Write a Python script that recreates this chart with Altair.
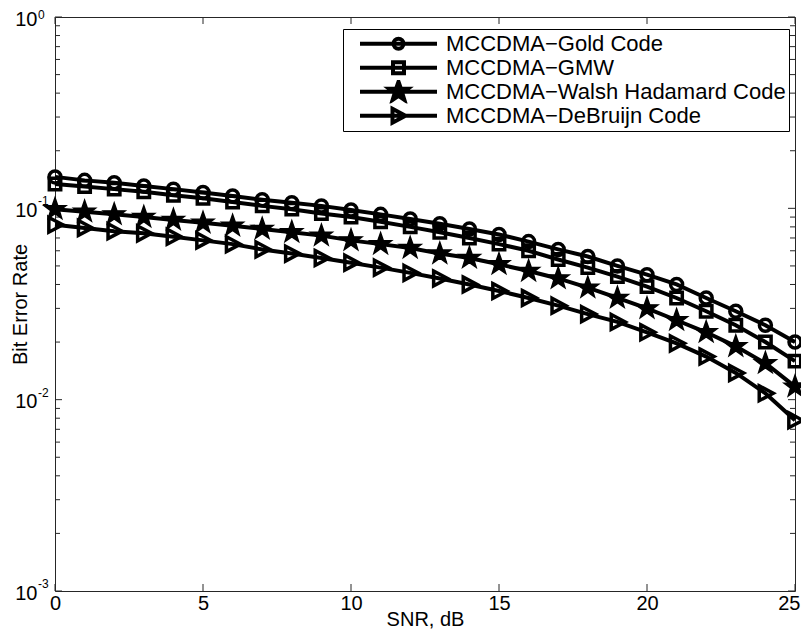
import altair as alt
import pandas as pd

# ---------------- data ----------------
snr = list(range(26))
series_names = [
    "MCCDMA\u2212Gold Code",
    "MCCDMA\u2212GMW",
    "MCCDMA\u2212Walsh Hadamard Code",
    "MCCDMA\u2212DeBruijn Code",
]
gold = [0.146, 0.140, 0.136, 0.131, 0.126, 0.121, 0.116, 0.111, 0.107, 0.103,
        0.098, 0.093, 0.088, 0.083, 0.078, 0.073, 0.067, 0.061, 0.056, 0.050,
        0.045, 0.040, 0.034, 0.029, 0.0245, 0.020]
gmw = [0.134, 0.130, 0.126, 0.122, 0.117, 0.113, 0.108, 0.103, 0.099, 0.094,
       0.090, 0.085, 0.080, 0.075, 0.070, 0.065, 0.060, 0.054, 0.049, 0.044,
       0.039, 0.034, 0.029, 0.0245, 0.020, 0.0159]
walsh = [0.099, 0.096, 0.093, 0.090, 0.087, 0.084, 0.081, 0.078, 0.075, 0.072,
         0.068, 0.065, 0.062, 0.058, 0.055, 0.051, 0.047, 0.043, 0.0385, 0.034,
         0.030, 0.026, 0.0225, 0.019, 0.0155, 0.0117]
debruijn = [0.082, 0.079, 0.076, 0.074, 0.071, 0.068, 0.065, 0.061, 0.058, 0.055,
            0.052, 0.049, 0.046, 0.043, 0.040, 0.037, 0.034, 0.031, 0.028, 0.0255,
            0.0225, 0.0197, 0.0168, 0.0138, 0.0108, 0.0078]
series_values = [gold, gmw, walsh, debruijn]

x_ticks = [0, 5, 10, 15, 20, 25]
y_major = [0.001, 0.01, 0.1, 1]
y_exponents = ["-3", "-2", "-1", "0"]
y_minor = [0.002, 0.003, 0.004, 0.005, 0.006, 0.007, 0.008, 0.009,
           0.02, 0.03, 0.04, 0.05, 0.06, 0.07, 0.08, 0.09,
           0.2, 0.3, 0.4, 0.5, 0.6, 0.7, 0.8, 0.9]

rows = []
for name, vals in zip(series_names, series_values):
    for s, v in zip(snr, vals):
        rows.append({"snr": s, "ber": v, "series": name})
df = pd.DataFrame(rows)

# ---------------- style ----------------
W, H = 740, 574
FONT = "Liberation Sans"
AX = "#262626"
FS = 20

xscale = alt.Scale(domain=[0, 25], nice=False, zero=False)
yscale = alt.Scale(type="log", domain=[0.001, 1], nice=False)
xaxis = alt.Axis(values=x_ticks, title="SNR, dB", grid=False, ticks=False, domain=False,
                 labelFont=FONT, labelFontSize=FS, labelColor="black", labelPadding=2,
                 labelOverlap=False, labelFlush=False,
                 labelAlign={"condition": {"test": "datum.value == 25", "value": "right"},
                             "value": "center"},
                 labelOffset={"condition": {"test": "datum.value == 25", "value": 5},
                              "value": 0},
                 titleFont=FONT, titleFontSize=FS, titleFontWeight="normal",
                 titleColor="black", titleY=34, titleBaseline="alphabetic")
yaxis = alt.Axis(values=y_major, labelExpr="'10'", title="Bit Error Rate", grid=False,
                 ticks=False, domain=False, labelFont=FONT, labelFontSize=FS,
                 labelColor="black", labelPadding=18, labelOffset=2, labelOverlap=False,
                 labelFlush=False, titleFont=FONT, titleFontSize=FS,
                 titleFontWeight="normal", titleColor="black", titleX=-35,
                 titleBaseline="middle")


def X(field):
    return alt.X(field, type="quantitative", scale=xscale, axis=xaxis)


def Y(field):
    return alt.Y(field, type="quantitative", scale=yscale, axis=yaxis)


layers = []

# inward tick marks on all four sides
ymaj_df = pd.DataFrame({"v": y_major})
ymin_df = pd.DataFrame({"v": y_minor})
xt_df = pd.DataFrame({"t": x_ticks})
for d, L in [(ymaj_df, 7), (ymin_df, 5)]:
    layers.append(alt.Chart(d).mark_rule(color=AX, strokeWidth=1).encode(
        y=Y("v"), x=alt.value(0), x2=alt.value(L)))
    layers.append(alt.Chart(d).mark_rule(color=AX, strokeWidth=1).encode(
        y=Y("v"), x=alt.value(W - L), x2=alt.value(W)))
layers.append(alt.Chart(xt_df).mark_rule(color=AX, strokeWidth=1).encode(
    x=X("t"), y=alt.value(H - 7), y2=alt.value(H)))
layers.append(alt.Chart(xt_df).mark_rule(color=AX, strokeWidth=1).encode(
    x=X("t"), y=alt.value(0), y2=alt.value(7)))

# exponents of the y tick labels (the top one kept inside the page)
exp_df = pd.DataFrame({"v": y_major, "e": y_exponents})
layers.append(alt.Chart(exp_df).transform_filter(alt.datum.v < 0.5).mark_text(
    align="left", baseline="middle", dy=-7, font=FONT, fontSize=12, color="black"
).encode(y=Y("v"), x=alt.value(-17), text="e:N"))
layers.append(alt.Chart(exp_df).transform_filter(alt.datum.v > 0.5).mark_text(
    align="left", baseline="middle", dy=-2, font=FONT, fontSize=12, color="black"
).encode(y=Y("v"), x=alt.value(-17), text="e:N"))

# lines
layers.append(alt.Chart(df).mark_line(color="black", strokeWidth=4).encode(
    x=X("snr"), y=Y("ber"), detail="series:N"))

# markers
STAR = ("M0,-1L0.235,-0.324L0.951,-0.309L0.38,0.124L0.588,0.809L0,0.4"
        "L-0.588,0.809L-0.38,0.124L-0.951,-0.309L-0.235,-0.324Z")
TRI = "M-0.75,-0.9L0.95,0L-0.75,0.9Z"
marker_specs = [("circle", 144, False), ("square", 130, False),
                (STAR, 520, True), (TRI, 270, False)]
for name, (shape, size, filled) in zip(series_names, marker_specs):
    if filled:
        mk = alt.Chart(df).transform_filter(alt.datum.series == name).mark_point(
            shape=shape, size=size, filled=True, fill="black", stroke="black",
            strokeWidth=1.5, opacity=1)
    else:
        mk = alt.Chart(df).transform_filter(alt.datum.series == name).mark_point(
            shape=shape, size=size, filled=False, stroke="black", strokeWidth=3.5,
            opacity=1)
    layers.append(mk.encode(x=X("snr"), y=Y("ber")))

# legend (line + marker symbols; the star is filled by inner strokes)
LEG_LINE = "M0.2,0L7.9,0"
leg_paths = [
    LEG_LINE + "M4.55,0A0.5,0.5 0 1,1 3.55,0A0.5,0.5 0 1,1 4.55,0Z",
    LEG_LINE + "M3.5,-0.55L4.6,-0.55L4.6,0.55L3.5,0.55Z",
    LEG_LINE + ("M4.05,-1L4.285,-0.324L5.001,-0.309L4.43,0.124L4.638,0.809L4.05,0.4"
                "L3.462,0.809L3.67,0.124L3.099,-0.309L3.815,-0.324Z"
                "M4.05,0L4.05,-0.8M4.05,0L4.811,-0.247M4.05,0L4.52,0.647"
                "M4.05,0L3.58,0.647M4.05,0L3.289,-0.247"),
    LEG_LINE + "M3.45,-0.7L4.75,0L3.45,0.7Z",
]
legend = alt.Legend(orient="none", legendX=288, legendY=12, title=None,
                    padding=3, strokeColor="black", fillColor="white",
                    labelFont=FONT, labelFontSize=22, labelColor="black",
                    labelLimit=600, labelOffset=76, symbolSize=400,
                    symbolStrokeWidth=4, symbolStrokeColor="black",
                    symbolFillColor="transparent", gridAlign="all",
                    clipHeight=23.5, symbolOpacity=1, rowPadding=0, cornerRadius=0)
layers.append(alt.Chart(df).transform_filter("false").mark_point(
    filled=False, color="black", strokeWidth=4, opacity=1
).encode(
    x=X("snr"), y=Y("ber"),
    shape=alt.Shape("series:N", scale=alt.Scale(domain=series_names, range=leg_paths),
                    legend=legend),
))

chart = alt.layer(*layers).properties(
    width=W, height=H,
    padding={"left": 47, "top": 9, "right": 6, "bottom": 39},
    autosize=alt.AutoSizeParams(type="none"),
    background="white",
).configure_view(stroke=AX, strokeWidth=1)

chart.save("out.html", embed_options={"renderer": "svg", "actions": False})
